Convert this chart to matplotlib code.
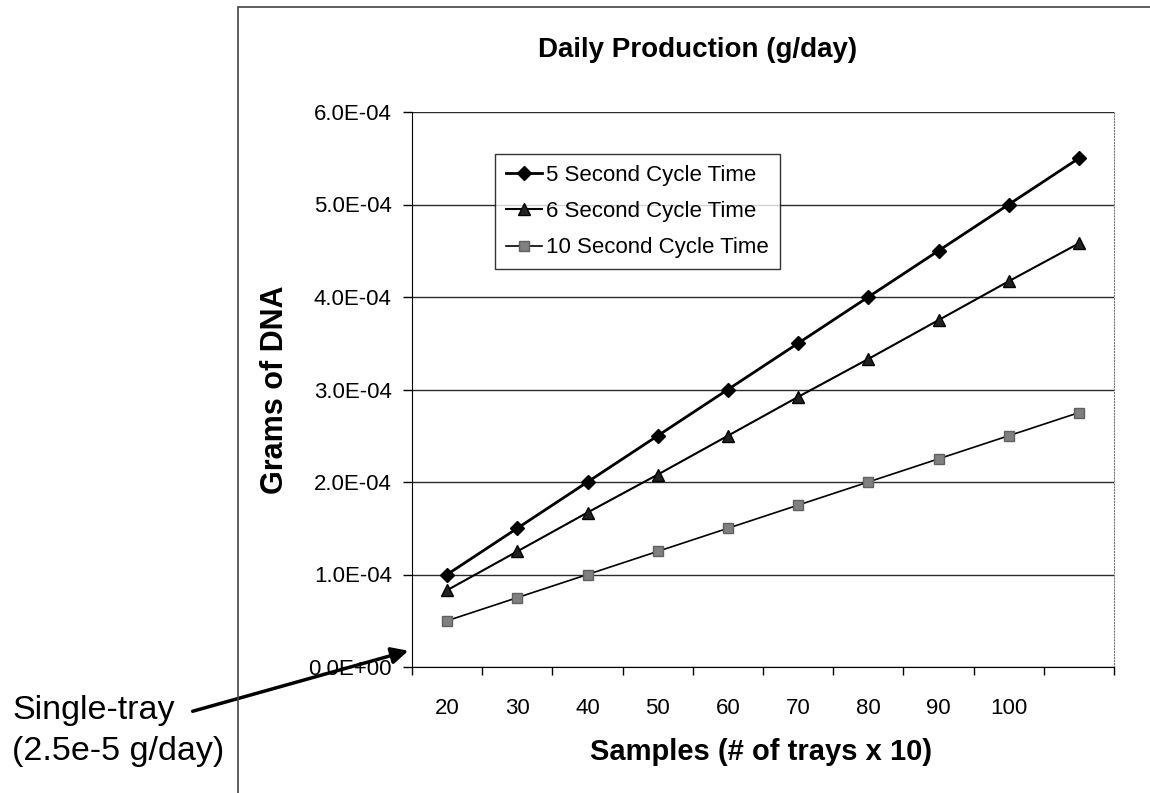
import matplotlib
matplotlib.use("Agg")
from matplotlib import pyplot as plt
from matplotlib.patches import Rectangle
from matplotlib.ticker import FixedLocator, FuncFormatter

plt.rcParams['font.family'] = ['Liberation Sans', 'DejaVu Sans']

# data (grams of DNA per day)
samples = ['20', '30', '40', '50', '60', '70', '80', '90', '100', '']
cycle_5s = [1.0e-4, 1.5e-4, 2.0e-4, 2.5e-4, 3.0e-4, 3.5e-4, 4.0e-4, 4.5e-4, 5.0e-4, 5.5e-4]
cycle_6s = [0.83e-4, 1.25e-4, 1.67e-4, 2.08e-4, 2.5e-4, 2.92e-4, 3.33e-4, 3.75e-4, 4.17e-4, 4.58e-4]
cycle_10s = [0.5e-4, 0.75e-4, 1.0e-4, 1.25e-4, 1.5e-4, 1.75e-4, 2.0e-4, 2.25e-4, 2.5e-4, 2.75e-4]
y_ticks = [0, 1e-4, 2e-4, 3e-4, 4e-4, 5e-4, 6e-4]

W, H = 1150, 793
fig = plt.figure(figsize=(W / 100, H / 100), dpi=100)
ax = fig.add_axes([412 / W, 1 - 667 / H, 702 / W, 555 / H])

pos = list(range(len(samples)))
ax.plot(pos, cycle_5s, color='black', lw=2, marker='D', ms=7, label='5 Second Cycle Time', zorder=5)
ax.plot(pos, cycle_6s, color='black', lw=1.5, marker='^', ms=8, mfc='#222222', label='6 Second Cycle Time', zorder=5)
ax.plot(pos, cycle_10s, color='black', lw=1.2, marker='s', ms=6.5, mfc='#808080', mec='#606060',
        label='10 Second Cycle Time', zorder=5)

ax.set_xlim(-0.5, len(samples) - 0.5)
ax.set_ylim(0, 6e-4)

# y axis
ax.yaxis.set_major_locator(FixedLocator(y_ticks))
ax.yaxis.set_major_formatter(FuncFormatter(lambda v, p: "{0:.1E}".format(v)))
ax.tick_params(axis='y', which='major', direction='out', length=6.5, width=1, pad=8, labelsize=16)
ax.yaxis.grid(True, color='#2a2a2a', lw=1)
ax.set_axisbelow(True)

# x axis: ticks between categories, labels at centers
ax.xaxis.set_major_locator(FixedLocator([p - 0.5 for p in pos] + [pos[-1] + 0.5]))
ax.xaxis.set_major_formatter(FuncFormatter(lambda v, p: ''))
ax.xaxis.set_minor_locator(FixedLocator(pos))
ax.set_xticks(pos, samples, minor=True)
ax.tick_params(axis='x', which='major', direction='out', length=6, width=1)
ax.tick_params(axis='x', which='minor', length=0, pad=22, labelsize=16)

ax.spines['top'].set_visible(False)
ax.spines['right'].set_linestyle(':')
ax.spines['right'].set_color('#777777')
ax.spines['left'].set_color('black')
ax.spines['bottom'].set_color('black')

ax.set_xlabel('Samples (# of trays x 10)', fontsize=21, fontweight='bold', va='center')
ax.xaxis.set_label_coords(0.497, (667 - 752) / 555)
ax.set_ylabel('Grams of DNA', fontsize=22, fontweight='bold', va='center')
ax.yaxis.set_label_coords((275 - 412) / 702, 0.5)

fig.text(698 / W, 1 - 50 / H, 'Daily Production (g/day)', fontsize=20, fontweight='bold',
         ha='center', va='center')

leg = ax.legend(loc='upper left', bbox_to_anchor=(495 / W, 1 - 154 / H), bbox_transform=fig.transFigure,
                borderaxespad=0, fontsize=16, frameon=True, fancybox=False, handlelength=1.6,
                handletextpad=0.2, labelspacing=0.68, borderpad=0.5)
leg.get_frame().set_edgecolor('black')
leg.get_frame().set_linewidth(1)

# outer chart border
fig.add_artist(Rectangle((238 / W, -0.05), 1, 1.05 - 7 / H, transform=fig.transFigure,
                         fill=False, ec='#444444', lw=1.2))

# annotation
fig.text(12 / W, 1 - 731 / H, 'Single-tray\n(2.5e-5 g/day)', fontsize=24.5, ha='left', va='center',
         linespacing=1.45)
ax.annotate('', xy=(411 / W, 1 - 650 / H), xytext=(190 / W, 1 - 712 / H),
            xycoords='figure fraction', textcoords='figure fraction',
            arrowprops=dict(arrowstyle='-|>', lw=2.5, color='black', mutation_scale=25),
            annotation_clip=False, zorder=10)

fig.savefig('out.png', dpi=100)
